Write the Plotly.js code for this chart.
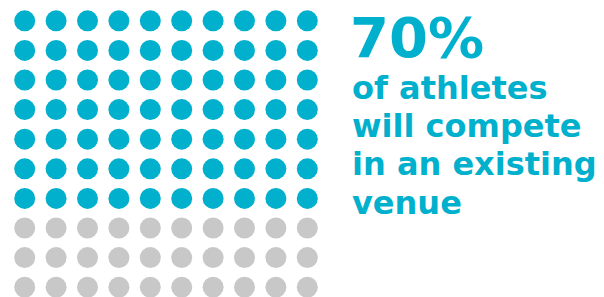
<!DOCTYPE html>
<html>
<head>
<meta charset="utf-8">
<script src="https://cdn.plot.ly/plotly-3.0.1.min.js"></script>
<style>html,body{margin:0;padding:0;background:#fff;}#chart{width:604px;height:297px;}</style>
</head>
<body>
<div id="chart"></div>
<script>
// Data
const categories = ['Existing venue', 'Other venue'];
const counts = [70, 30];
const colors = ['#00B0CC', '#C8C8C8'];
const gridCols = 10;
const gridRows = 10;
const headline = '70%';
const captionLines = ['of athletes', 'will compete', 'in an existing', 'venue'];

// Build waffle points (row-major, top-left first)
const traces = [];
let idx = 0;
categories.forEach((cat, ci) => {
  const xs = [], ys = [];
  for (let k = 0; k < counts[ci]; k++) {
    xs.push(idx % gridCols);
    ys.push(Math.floor(idx / gridCols));
    idx++;
  }
  traces.push({
    type: 'scatter', mode: 'markers', name: cat,
    x: xs, y: ys,
    marker: {size: 21, color: colors[ci], line: {width: 0}},
    hoverinfo: 'name'
  });
});

const W = 604, H = 297;
const x0 = 24.7, dx = 31.4, y0 = 20.8, dy = 29.6;
const FONT = 'DejaVu Sans';
const capSize = 32, headSize = 56, descent = 0.236;

const annotations = [{
  xref: 'paper', yref: 'paper', x: 347.5 / W, y: 1 - (58 + descent * headSize + 1) / H,
  xanchor: 'left', yanchor: 'bottom', showarrow: false,
  text: '<b>' + headline + '</b>',
  font: {family: FONT, size: headSize, color: colors[0]}
}];
captionLines.forEach((line, i) => {
  const baseline = 100 + i * 38.4;
  annotations.push({
    xref: 'paper', yref: 'paper', x: 349.5 / W, y: 1 - (baseline + descent * capSize + 1) / H,
    xanchor: 'left', yanchor: 'bottom', align: 'left', showarrow: false,
    text: '<b>' + line + '</b>',
    font: {family: FONT, size: capSize, color: colors[0]}
  });
});

const layout = {
  width: W, height: H,
  margin: {l: 0, r: 0, t: 0, b: 0},
  paper_bgcolor: '#fff', plot_bgcolor: '#fff',
  showlegend: false,
  xaxis: {range: [(0 - x0) / dx, (W - x0) / dx], visible: false, fixedrange: true},
  yaxis: {range: [(H - y0) / dy, (0 - y0) / dy], visible: false, fixedrange: true},
  annotations: annotations
};

Plotly.newPlot('chart', traces, layout, {displayModeBar: false, staticPlot: true});
</script>
</body>
</html>
